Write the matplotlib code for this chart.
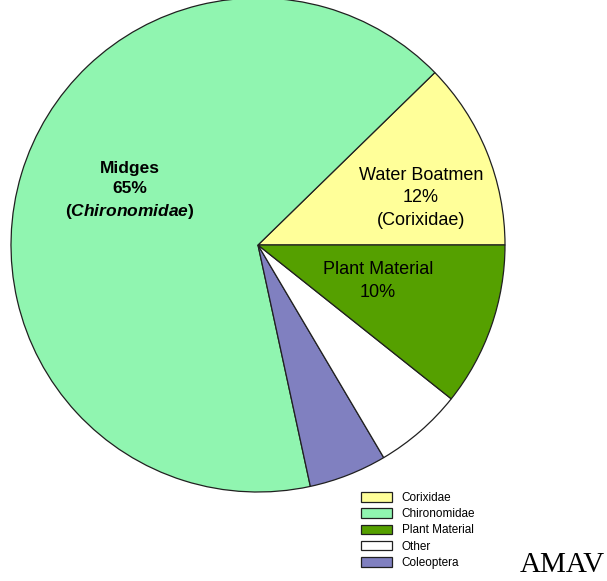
import matplotlib.pyplot as plt

plt.rcParams['font.family'] = ['Liberation Sans', 'DejaVu Sans']
plt.rcParams['mathtext.fontset'] = 'custom'
plt.rcParams['mathtext.it'] = 'Liberation Sans:bold:italic'

# pie order (counterclockwise from 3 o'clock)
labels = ["Corixidae", "Chironomidae", "Coleoptera", "Other", "Plant Material"]
values = [12.3, 66.1, 5.1, 5.8, 10.7]
colors = ["#ffff99", "#90f5b0", "#8080c0", "#ffffff", "#55a000"]

# legend order
legend_order = ["Corixidae", "Chironomidae", "Plant Material", "Other", "Coleoptera"]

fig = plt.figure(figsize=(6.07, 5.81), dpi=100)

# pie centre ~ (258, 245) px, radius ~ 247 px
W, H = 607, 581
cx, cy, r = 258, 245, 247
ax = fig.add_axes([(cx - r) / W, (H - cy - r) / H, 2 * r / W, 2 * r / H])
wedges, _ = ax.pie(values, colors=colors, startangle=0, counterclock=True,
                   wedgeprops=dict(edgecolor="#202020", linewidth=0.9))
ax.set_xlim(-1, 1)
ax.set_ylim(-1, 1)
ax.set_aspect("equal")


def px(x, y):
    return (x - cx) / r, (cy - y) / r


# slice labels
tx, ty = px(130, 191)
ax.text(tx, ty, "Midges\n65%\n($\\mathit{Chironomidae}$)", ha="center", va="center",
        fontsize=12.5, fontweight="bold", linespacing=1.45)
tx, ty = px(421, 198)
ax.text(tx, ty, "Water Boatmen\n12%\n(Corixidae)", ha="center", va="center",
        fontsize=13, linespacing=1.4)
tx, ty = px(378, 281)
ax.text(tx, ty, "Plant Material\n10%", ha="center", va="center",
        fontsize=13, linespacing=1.4)

handles = [wedges[labels.index(n)] for n in legend_order]
fig.legend(handles, legend_order, loc="upper left",
           bbox_to_anchor=(355 / W, 1 - 486 / H), frameon=False,
           fontsize=8.5, handlelength=2.6, handleheight=0.85,
           labelspacing=0.36, handletextpad=0.85, borderpad=0)

fig.text(605 / W, 1 - 578 / H, "AMAV", ha="right", va="bottom",
         family="Liberation Serif", fontsize=21)

plt.savefig("out.png", dpi=100)
